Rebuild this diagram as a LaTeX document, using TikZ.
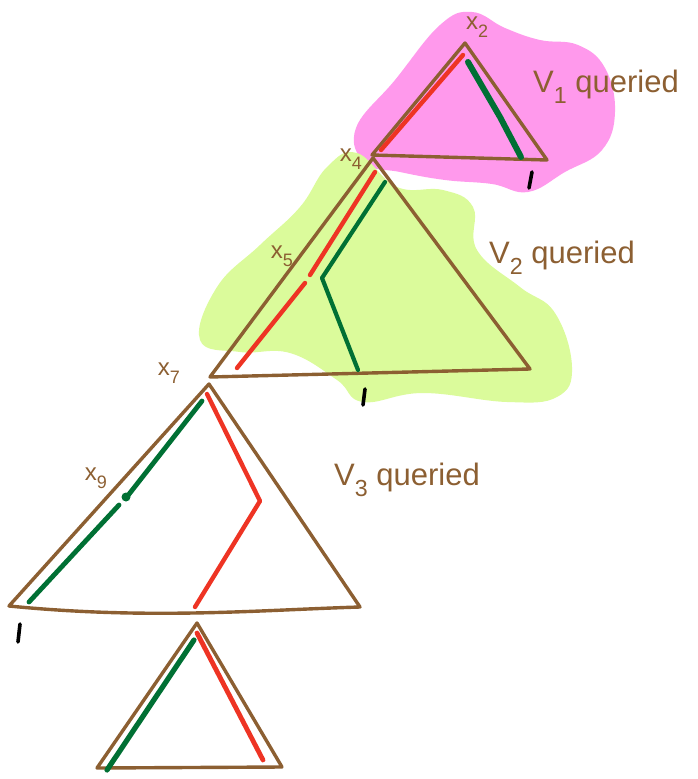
\documentclass[tikz,border=0pt]{standalone}
\usepackage{fontspec}
\setmainfont{Liberation Sans}
\newcommand{\lsub}[1]{\raisebox{-0.35em}{\scalebox{0.75}{#1}}}
\begin{document}
\begin{tikzpicture}[x=1pt,y=-1pt,
  edge/.style={draw=brn,line width=3.4pt,line join=round,line cap=round},
  redl/.style={draw=redc,line width=4.4pt,line cap=round,line join=round},
  grnl/.style={draw=grnc,line width=4.2pt,line cap=round,line join=round},
  tick/.style={draw=black,line width=3.6pt,line cap=round},
  lab/.style={text=brn,font=\fontsize{24}{26}\selectfont,inner sep=0pt},
  big/.style={text=brn,font=\fontsize{31}{33}\selectfont,inner sep=0pt,anchor=west}]
\definecolor{brn}{RGB}{140,95,50}
\definecolor{redc}{RGB}{238,52,36}
\definecolor{grnc}{RGB}{0,112,52}
\definecolor{pinkc}{RGB}{255,153,236}
\definecolor{limec}{RGB}{219,251,155}
\useasboundingbox (0,0) rectangle (698,779);
% clouds
\fill[pinkc] plot[smooth cycle,tension=0.7] coordinates {(356,128) (395,80) (440,25) (472,12) (505,28) (540,40) (578,45) (605,68) (615,112) (602,150) (565,172) (528,192) (492,184) (445,180) (400,172) (365,163)};
\fill[limec] plot[smooth cycle,tension=0.7] coordinates {(357,153) (397,187) (443,190) (473,207) (477,250) (520,287) (555,313) (572,367) (557,397) (507,402) (423,393) (363,402) (337,380) (290,353) (240,352) (200,340) (217,287) (260,245) (300,207) (327,167)};
% triangle 1
\coordinate (a1) at (465,43);
\coordinate (b1) at (372,155);
\coordinate (c1) at (547,160);
\draw[edge] (a1) -- (c1) -- (b1) -- cycle;
\draw[redl] (463,55) -- (381,150);
\draw[draw=grnc,line width=6pt,line cap=round] (468,62) -- (500,117) -- (521,157);
\node[lab] (x2) at (477,27) {x\lsub{2}};
\node[big] (v1) at (533,87) {V\lsub{1} queried};
\draw[tick] (532,172) -- (529,188);
% triangle 2
\coordinate (a2) at (373,158);
\coordinate (b2) at (210,377);
\coordinate (c2) at (530,369);
\draw[edge] (a2) -- (c2) -- (b2) -- cycle;
\draw[redl] (375,172) -- (310,275);
\draw[redl] (305,283) -- (237,368);
\draw[grnl] (385,182) -- (322,278) -- (358,370);
\node[lab] (x4) at (351,159) {x\lsub{4}};
\node[lab] (x5) at (282,256) {x\lsub{5}};
\node[big] (v2) at (489,258) {V\lsub{2} queried};
\draw[tick] (365,389) -- (363,405);
% triangle 3
\coordinate (a3) at (209,384);
\coordinate (b3) at (9,606);
\coordinate (c3) at (360,607);
\draw[edge] (a3) -- (c3) .. controls (260,610) and (150,620) .. (b3) -- cycle;
\draw[grnl,line width=4.8pt] (202,401) -- (126,498);
\draw[grnl,line width=4.8pt] (119,505) -- (29,602);
\fill[grnc] (126,497) circle (4.5);
\draw[redl] (207,394) -- (260,501) -- (195,607);
\node[lab] (x7) at (169,373) {x\lsub{7}};
\node[lab] (x9) at (96,478) {x\lsub{9}};
\node[big] (v3) at (334,480) {V\lsub{3} queried};
\draw[tick] (20,624) -- (18,642);
% triangle 4
\coordinate (a4) at (197,623);
\coordinate (b4) at (97,768);
\coordinate (c4) at (282,767);
\draw[edge] (a4) -- (c4) -- (b4) -- cycle;
\draw[grnl,line width=5.2pt] (194,640) -- (107,770);
\draw[redl,line width=4.8pt] (197,633) -- (263,760);
\end{tikzpicture}
\end{document}
